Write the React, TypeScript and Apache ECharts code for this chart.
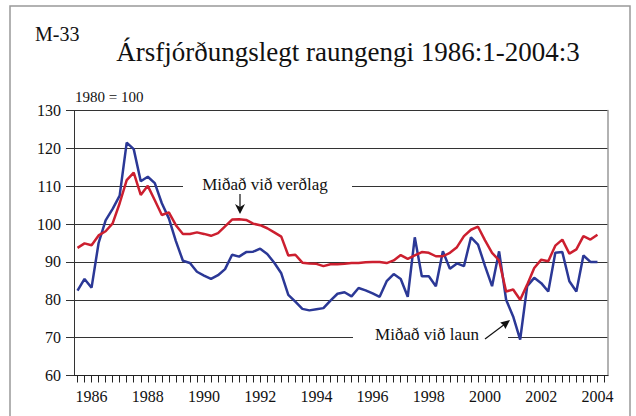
import React, { useEffect, useRef } from "react";
import * as echarts from "echarts";

const years = [1986, 1987, 1988, 1989, 1990, 1991, 1992, 1993, 1994, 1995, 1996, 1997, 1998, 1999, 2000, 2001, 2002, 2003, 2004];
const quarters = [1, 2, 3, 4];
const categories = years.flatMap((y) => quarters.map((q) => `${y}:${q}`));

const yMin = 60;
const yMax = 130;
const yStep = 10;

// Miðað við laun (blue)
const wageBased = [
  82.4, 85.5, 83.2, 95, 101, 104, 107.5, 121.5, 119.8, 111.3,
  112.5, 110.8, 105.5, 101.5, 95.5, 90.3, 89.7, 87.4, 86.4, 85.5,
  86.5, 88.1, 91.9, 91.4, 92.6, 92.7, 93.5, 92.1, 89.8, 87,
  81.3, 79.5, 77.6, 77.2, 77.5, 77.8, 79.8, 81.6, 82, 80.9,
  83.1, 82.5, 81.7, 80.8, 84.9, 86.8, 85.5, 80.8, 96.5, 86.2,
  86.2, 83.6, 92.8, 88.2, 89.6, 88.9, 96.5, 94.6, 88.9, 83.6,
  92.8, 80, 75.6, 69.5, 83.6, 85.8, 84.4, 82.2, 92.4, 92.6,
  84.9, 82.2, 91.7, 90, 90,
];

// Miðað við verðlag (red)
const priceBased = [
  93.7, 94.9, 94.4, 97, 98.1, 100.2, 105.5, 111.6, 113.6, 107.7,
  110.1, 106.3, 102.4, 103.1, 99.7, 97.4, 97.4, 97.8, 97.4, 96.9,
  97.6, 99.4, 101.2, 101.3, 101.1, 100.1, 99.7, 98.9, 97.8, 96.7,
  91.7, 91.9, 89.8, 89.6, 89.5, 88.9, 89.4, 89.4, 89.5, 89.7,
  89.7, 89.9, 90, 90, 89.7, 90.4, 91.8, 90.8, 91.7, 92.6,
  92.4, 91.5, 91.5, 92.4, 93.9, 96.8, 98.5, 99.3, 95.7, 92.4,
  90.4, 82.2, 82.7, 80, 84, 88.4, 90.6, 90.2, 94.3, 95.9,
  92.2, 93.3, 96.8, 95.9, 97.2,
];

const SERIF = '"Liberation Serif", "Times New Roman", serif';
const BLUE = "#2b3896";
const RED = "#cc1f2f";

export default function App() {
  const ref = useRef<HTMLDivElement>(null);
  useEffect(() => {
    if (!ref.current) return;
    const chart = echarts.init(ref.current, undefined, { renderer: "svg" });
    const txt = (text: string, x: number, y: number, size: number, align = "center") => ({
      type: "text",
      x,
      y,
      z: 20,
      style: {
        text,
        fontSize: size,
        fontFamily: SERIF,
        fill: "#111",
        align,
        verticalAlign: "middle",
        textAlign: align,
        textVerticalAlign: "middle",
      },
    });
    chart.setOption({
      animation: false,
      backgroundColor: "#fff",
      grid: { left: 74, right: 28, top: 110.5, bottom: 40.5, containLabel: false },
      xAxis: {
        type: "category",
        data: categories,
        boundaryGap: true,
        axisLine: { show: true, lineStyle: { color: "#222", width: 1 } },
        axisTick: { show: true, interval: 0, alignWithLabel: true, length: 7, lineStyle: { color: "#222" } },
        axisLabel: {
          interval: (i: number) => i % 8 === 2,
          formatter: (v: string) => v.slice(0, 4),
          margin: 13,
          fontSize: 16,
          fontFamily: SERIF,
          color: "#111",
        },
        splitLine: { show: false },
      },
      yAxis: [
        {
          type: "value",
          min: yMin,
          max: yMax,
          interval: yStep,
          axisLine: { show: true, lineStyle: { color: "#333", width: 1 } },
          axisTick: { show: true, length: 8, lineStyle: { color: "#333" } },
          axisLabel: { margin: 13, fontSize: 16, fontFamily: SERIF, color: "#111" },
          splitLine: { show: true, lineStyle: { color: "#333", width: 1 } },
        },
        {
          type: "value",
          min: yMin,
          max: yMax,
          interval: yStep,
          position: "right",
          axisLine: { show: true, lineStyle: { color: "#999", width: 1.5 } },
          axisTick: { show: false },
          axisLabel: { show: false },
          splitLine: { show: false },
        },
      ],
      series: [
        {
          type: "line",
          name: "Miðað við laun",
          data: wageBased,
          symbol: "none",
          lineStyle: { color: BLUE, width: 2.5 },
          z: 3,
        },
        {
          type: "line",
          name: "Miðað við verðlag",
          data: priceBased,
          symbol: "none",
          lineStyle: { color: RED, width: 2.5 },
          z: 4,
        },
      ],
      graphic: [
        {
          type: "rect",
          z: 0,
          shape: { x: 10, y: 6, width: 620, height: 440 },
          style: { fill: "none", stroke: "#999", lineWidth: 1.5 },
        },
        { type: "rect", z: 10, shape: { x: 183, y: 176, width: 169, height: 20 }, style: { fill: "#fff" } },
        { type: "rect", z: 10, shape: { x: 353, y: 326, width: 155, height: 20 }, style: { fill: "#fff" } },
        txt("M-33", 35, 34, 20, "left"),
        txt("Ársfjórðungslegt raungengi 1986:1-2004:3", 348, 52, 27),
        txt("1980 = 100", 75, 97, 15, "left"),
        txt("Miðað við verðlag", 265, 184, 17),
        txt("Miðað við laun", 427, 334, 17),
        { type: "line", z: 20, shape: { x1: 240, y1: 194, x2: 240, y2: 210 }, style: { stroke: "#111", lineWidth: 1.2 } },
        {
          type: "polygon",
          z: 20,
          shape: { points: [[235, 204], [240, 214], [245, 204], [240, 207]] },
          style: { fill: "#111" },
        },
        { type: "line", z: 20, shape: { x1: 485, y1: 339, x2: 505, y2: 324 }, style: { stroke: "#111", lineWidth: 1.2 } },
        {
          type: "polygon",
          z: 20,
          shape: { points: [[510, 320], [505.4, 329], [503.5, 325.2], [500.2, 322.5]] },
          style: { fill: "#111" },
        },
      ],
    });
    return () => chart.dispose();
  }, []);
  return <div ref={ref} style={{ position: "fixed", left: 0, top: 0, width: 636, height: 416 }} />;
}
